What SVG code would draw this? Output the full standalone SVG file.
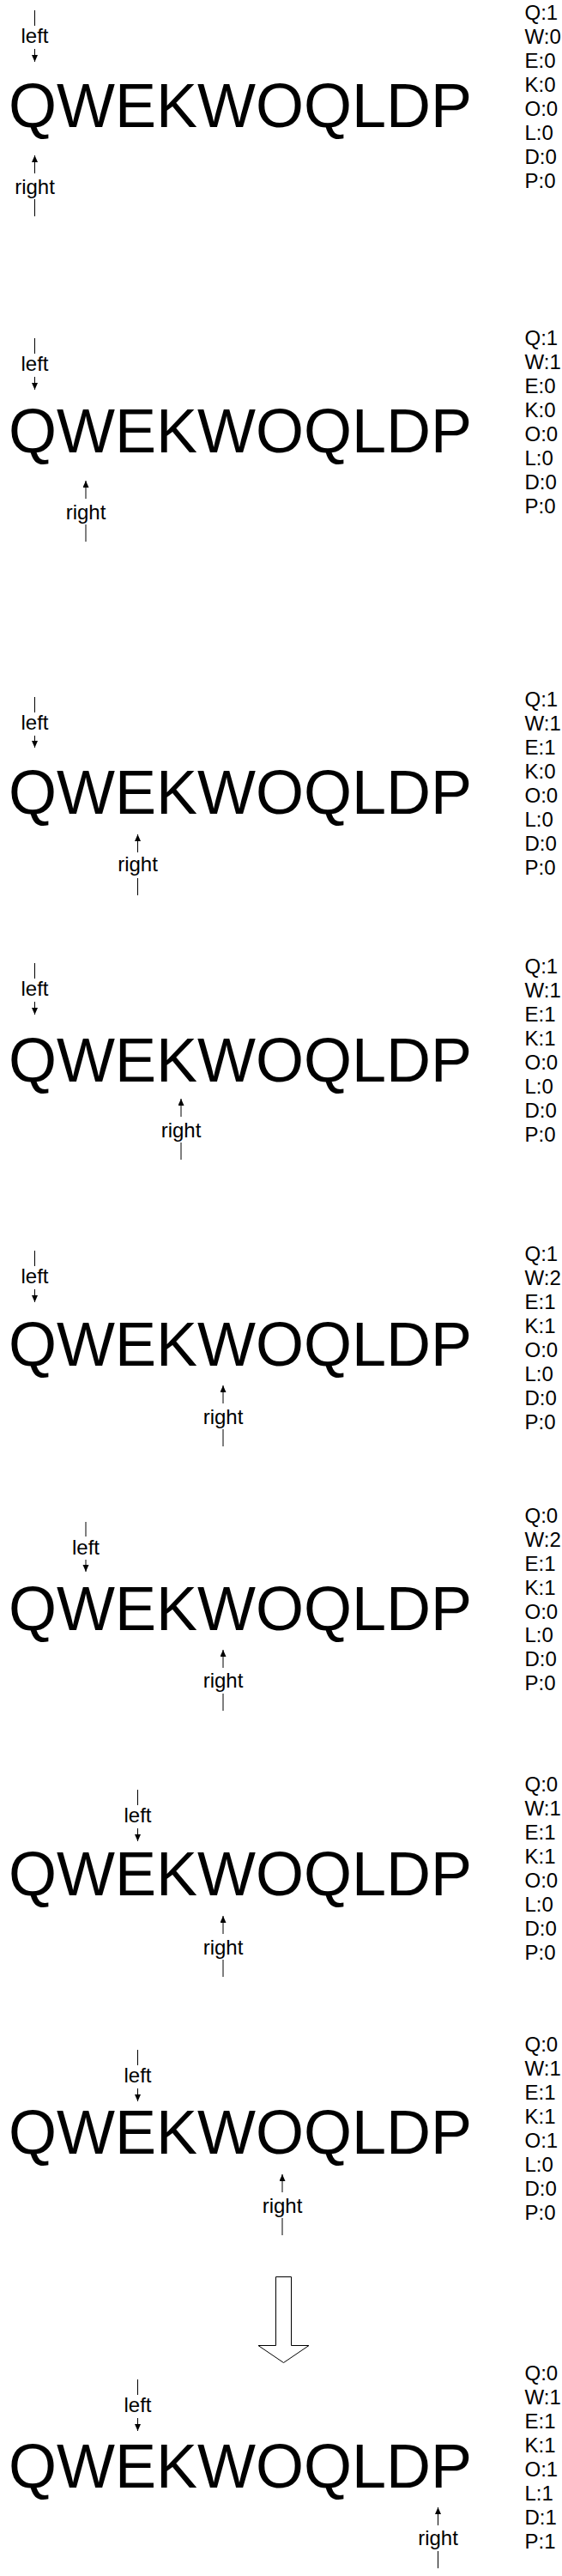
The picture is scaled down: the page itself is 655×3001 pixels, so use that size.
<svg xmlns="http://www.w3.org/2000/svg" width="655" height="3001" viewBox="0 0 655 3001">
<style>
.big{font-family:"Liberation Sans",Arial,sans-serif;font-size:72px;fill:#000}
.lbl{font-family:"Liberation Sans",Arial,sans-serif;font-size:24px;fill:#000;text-anchor:middle}
.col{font-family:"Liberation Sans",Arial,sans-serif;font-size:24px;fill:#000}
.ln{stroke:#000;stroke-width:1;fill:none}
.ar{stroke:#000;stroke-width:1;fill:none;marker-end:url(#ah)}
</style>
<defs>
<marker id="ah" markerUnits="userSpaceOnUse" markerWidth="8" markerHeight="8" refX="8" refY="3.5" orient="auto"><path d="M0,0 L8,3.5 L0,7 z" fill="#000"/></marker>
</defs>
<g id="panel1">
<line class="ln" x1="40.5" y1="12" x2="40.5" y2="30"/><text class="lbl" x="40.5" y="50">left</text><line class="ar" x1="40.5" y1="57" x2="40.5" y2="72"/>
<text class="big" x="10" y="148">QWEKWOQLDP</text>
<line class="ar" x1="40.5" y1="202" x2="40.5" y2="181"/><text class="lbl" x="40.5" y="226">right</text><line class="ln" x1="40.5" y1="232" x2="40.5" y2="252"/>
<text class="col" x="611.5" y="23">Q:1</text><text class="col" x="611.5" y="51">W:0</text><text class="col" x="611.5" y="79">E:0</text><text class="col" x="611.5" y="107">K:0</text><text class="col" x="611.5" y="135">O:0</text><text class="col" x="611.5" y="163">L:0</text><text class="col" x="611.5" y="191">D:0</text><text class="col" x="611.5" y="219">P:0</text>
</g>
<g id="panel2">
<line class="ln" x1="40.5" y1="394" x2="40.5" y2="412"/><text class="lbl" x="40.5" y="432">left</text><line class="ar" x1="40.5" y1="439" x2="40.5" y2="454"/>
<text class="big" x="10" y="527">QWEKWOQLDP</text>
<line class="ar" x1="100" y1="581" x2="100" y2="560"/><text class="lbl" x="100" y="605">right</text><line class="ln" x1="100" y1="611" x2="100" y2="631"/>
<text class="col" x="611.5" y="402">Q:1</text><text class="col" x="611.5" y="430">W:1</text><text class="col" x="611.5" y="458">E:0</text><text class="col" x="611.5" y="486">K:0</text><text class="col" x="611.5" y="514">O:0</text><text class="col" x="611.5" y="542">L:0</text><text class="col" x="611.5" y="570">D:0</text><text class="col" x="611.5" y="598">P:0</text>
</g>
<g id="panel3">
<line class="ln" x1="40.5" y1="812" x2="40.5" y2="830"/><text class="lbl" x="40.5" y="850">left</text><line class="ar" x1="40.5" y1="857" x2="40.5" y2="871"/>
<text class="big" x="10" y="948">QWEKWOQLDP</text>
<line class="ar" x1="160.5" y1="993" x2="160.5" y2="972"/><text class="lbl" x="160.5" y="1015">right</text><line class="ln" x1="160.5" y1="1023" x2="160.5" y2="1043"/>
<text class="col" x="611.5" y="823">Q:1</text><text class="col" x="611.5" y="851">W:1</text><text class="col" x="611.5" y="879">E:1</text><text class="col" x="611.5" y="907">K:0</text><text class="col" x="611.5" y="935">O:0</text><text class="col" x="611.5" y="963">L:0</text><text class="col" x="611.5" y="991">D:0</text><text class="col" x="611.5" y="1019">P:0</text>
</g>
<g id="panel4">
<line class="ln" x1="40.5" y1="1122" x2="40.5" y2="1140"/><text class="lbl" x="40.5" y="1160">left</text><line class="ar" x1="40.5" y1="1167" x2="40.5" y2="1182"/>
<text class="big" x="10" y="1260">QWEKWOQLDP</text>
<line class="ar" x1="211" y1="1301" x2="211" y2="1280"/><text class="lbl" x="211" y="1325">right</text><line class="ln" x1="211" y1="1331" x2="211" y2="1351"/>
<text class="col" x="611.5" y="1134">Q:1</text><text class="col" x="611.5" y="1162">W:1</text><text class="col" x="611.5" y="1190">E:1</text><text class="col" x="611.5" y="1218">K:1</text><text class="col" x="611.5" y="1246">O:0</text><text class="col" x="611.5" y="1274">L:0</text><text class="col" x="611.5" y="1302">D:0</text><text class="col" x="611.5" y="1330">P:0</text>
</g>
<g id="panel5">
<line class="ln" x1="40.5" y1="1457" x2="40.5" y2="1475"/><text class="lbl" x="40.5" y="1495">left</text><line class="ar" x1="40.5" y1="1502" x2="40.5" y2="1517"/>
<text class="big" x="10" y="1591">QWEKWOQLDP</text>
<line class="ar" x1="260" y1="1635" x2="260" y2="1614"/><text class="lbl" x="260" y="1659">right</text><line class="ln" x1="260" y1="1665" x2="260" y2="1685"/>
<text class="col" x="611.5" y="1469">Q:1</text><text class="col" x="611.5" y="1497">W:2</text><text class="col" x="611.5" y="1525">E:1</text><text class="col" x="611.5" y="1553">K:1</text><text class="col" x="611.5" y="1581">O:0</text><text class="col" x="611.5" y="1609">L:0</text><text class="col" x="611.5" y="1637">D:0</text><text class="col" x="611.5" y="1665">P:0</text>
</g>
<g id="panel6">
<line class="ln" x1="100" y1="1773" x2="100" y2="1790"/><text class="lbl" x="100" y="1811">left</text><line class="ar" x1="100" y1="1817" x2="100" y2="1831"/>
<text class="big" x="10" y="1899">QWEKWOQLDP</text>
<line class="ar" x1="260" y1="1943" x2="260" y2="1922"/><text class="lbl" x="260" y="1966">right</text><line class="ln" x1="260" y1="1973" x2="260" y2="1993"/>
<text class="col" x="611.5" y="1774">Q:0</text><text class="col" x="611.5" y="1802">W:2</text><text class="col" x="611.5" y="1830">E:1</text><text class="col" x="611.5" y="1858">K:1</text><text class="col" x="611.5" y="1886">O:0</text><text class="col" x="611.5" y="1913">L:0</text><text class="col" x="611.5" y="1941">D:0</text><text class="col" x="611.5" y="1969">P:0</text>
</g>
<g id="panel7">
<line class="ln" x1="160.5" y1="2085" x2="160.5" y2="2103"/><text class="lbl" x="160.5" y="2123">left</text><line class="ar" x1="160.5" y1="2130" x2="160.5" y2="2145"/>
<text class="big" x="10" y="2208">QWEKWOQLDP</text>
<line class="ar" x1="260" y1="2253" x2="260" y2="2232"/><text class="lbl" x="260" y="2277">right</text><line class="ln" x1="260" y1="2283" x2="260" y2="2303"/>
<text class="col" x="611.5" y="2087">Q:0</text><text class="col" x="611.5" y="2115">W:1</text><text class="col" x="611.5" y="2143">E:1</text><text class="col" x="611.5" y="2171">K:1</text><text class="col" x="611.5" y="2199">O:0</text><text class="col" x="611.5" y="2227">L:0</text><text class="col" x="611.5" y="2255">D:0</text><text class="col" x="611.5" y="2283">P:0</text>
</g>
<g id="panel8">
<line class="ln" x1="160.5" y1="2388" x2="160.5" y2="2406"/><text class="lbl" x="160.5" y="2426">left</text><line class="ar" x1="160.5" y1="2433" x2="160.5" y2="2448"/>
<text class="big" x="10" y="2509">QWEKWOQLDP</text>
<line class="ar" x1="329" y1="2554" x2="329" y2="2533"/><text class="lbl" x="329" y="2578">right</text><line class="ln" x1="329" y1="2584" x2="329" y2="2604"/>
<text class="col" x="611.5" y="2390">Q:0</text><text class="col" x="611.5" y="2418">W:1</text><text class="col" x="611.5" y="2446">E:1</text><text class="col" x="611.5" y="2474">K:1</text><text class="col" x="611.5" y="2502">O:1</text><text class="col" x="611.5" y="2530">L:0</text><text class="col" x="611.5" y="2558">D:0</text><text class="col" x="611.5" y="2586">P:0</text>
</g>
<g id="bigarrow">
<path d="M321.5,2652.5 H339.5 V2732.5 H360 L330.5,2752.5 L301,2732.5 H321.5 Z" fill="#fff" stroke="#000" stroke-width="1"/>
</g>
<g id="panel9">
<line class="ln" x1="160.5" y1="2772" x2="160.5" y2="2790"/><text class="lbl" x="160.5" y="2810">left</text><line class="ar" x1="160.5" y1="2817" x2="160.5" y2="2832"/>
<text class="big" x="10" y="2898">QWEKWOQLDP</text>
<line class="ar" x1="510.5" y1="2942" x2="510.5" y2="2921"/><text class="lbl" x="510.5" y="2965">right</text><line class="ln" x1="510.5" y1="2972" x2="510.5" y2="2992"/>
<text class="col" x="611.5" y="2773">Q:0</text><text class="col" x="611.5" y="2801">W:1</text><text class="col" x="611.5" y="2829">E:1</text><text class="col" x="611.5" y="2857">K:1</text><text class="col" x="611.5" y="2885">O:1</text><text class="col" x="611.5" y="2913">L:1</text><text class="col" x="611.5" y="2941">D:1</text><text class="col" x="611.5" y="2969">P:1</text>
</g>
</svg>
